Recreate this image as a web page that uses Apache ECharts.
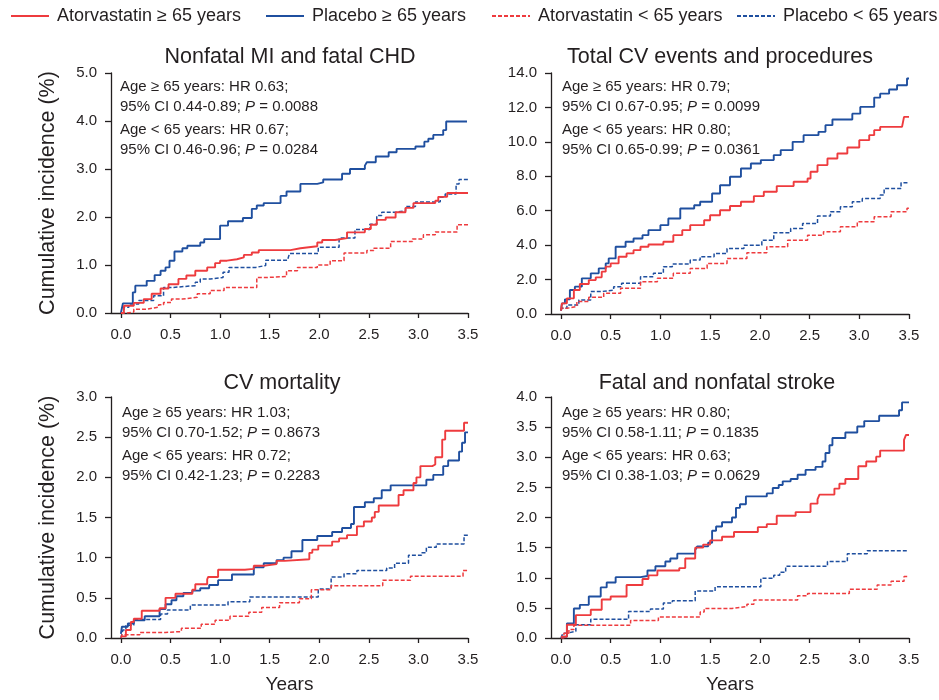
<!DOCTYPE html>
<html><head><meta charset="utf-8">
<script src="https://cdn.jsdelivr.net/npm/echarts@6/dist/echarts.min.js"></script>
<style>html,body{margin:0;padding:0;background:#fff}#c{width:939px;height:700px}</style>
</head><body><div id="c"></div>
<script>
// ---------- labels ----------
const seriesNames = ['Atorvastatin \u2265 65 years', 'Placebo \u2265 65 years', 'Atorvastatin < 65 years', 'Placebo < 65 years'];
const panelTitles = ['Nonfatal MI and fatal CHD', 'Total CV events and procedures', 'CV mortality', 'Fatal and nonfatal stroke'];
const xTickValues = [0, 0.5, 1.0, 1.5, 2.0, 2.5, 3.0, 3.5];
const yMaxes = [5, 14, 3, 4];
const yIntervals = [1, 2, 0.5, 0.5];
const xAxisTitle = 'Years';
const yAxisTitle = 'Cumulative incidence (%)';
const annotOld = [
  ['Age \u2265 65 years: HR 0.63;', '95% CI 0.44-0.89; ', ' = 0.0088'],
  ['Age \u2265 65 years: HR 0.79;', '95% CI 0.67-0.95; ', ' = 0.0099'],
  ['Age \u2265 65 years: HR 1.03;', '95% CI 0.70-1.52; ', ' = 0.8673'],
  ['Age \u2265 65 years: HR 0.80;', '95% CI 0.58-1.11; ', ' = 0.1835']
];
const annotYoung = [
  ['Age < 65 years: HR 0.67;', '95% CI 0.46-0.96; ', ' = 0.0284'],
  ['Age < 65 years: HR 0.80;', '95% CI 0.65-0.99; ', ' = 0.0361'],
  ['Age < 65 years: HR 0.72;', '95% CI 0.42-1.23; ', ' = 0.2283'],
  ['Age < 65 years: HR 0.63;', '95% CI 0.38-1.03; ', ' = 0.0629']
];

// ---------- data: [years, cumulative incidence %] ----------
// Panel 1: Nonfatal MI and fatal CHD
const mi_atorOld = [[0,0],[0.03,0.15],[0.13,0.21],[0.23,0.29],[0.31,0.40],[0.40,0.51],[0.48,0.60],[0.58,0.71],[0.66,0.78],[0.75,0.88],[0.87,0.95],[0.95,1.04],[1.0,1.09],[1.07,1.12],[1.17,1.16],[1.24,1.21],[1.32,1.26],[1.39,1.31],[1.71,1.35],[1.81,1.39],[1.98,1.47],[2.03,1.52],[2.16,1.56],[2.28,1.68],[2.46,1.75],[2.52,1.84],[2.58,1.94],[2.67,1.99],[2.77,2.10],[2.87,2.19],[2.95,2.29],[3.17,2.34],[3.20,2.42],[3.29,2.50],[3.5,2.50]];
const mi_placOld = [[0,0],[0.02,0.2],[0.12,0.43],[0.145,0.57],[0.26,0.67],[0.34,0.79],[0.40,0.88],[0.45,0.95],[0.49,1.09],[0.54,1.28],[0.62,1.35],[0.67,1.40],[0.80,1.47],[0.84,1.54],[1.0,1.82],[1.08,1.91],[1.23,1.98],[1.32,2.17],[1.37,2.24],[1.44,2.29],[1.61,2.44],[1.67,2.53],[1.81,2.69],[1.98,2.72],[2.04,2.78],[2.23,2.90],[2.31,3.0],[2.46,3.07],[2.48,3.14],[2.57,3.26],[2.70,3.35],[2.78,3.42],[2.97,3.47],[3.06,3.57],[3.10,3.63],[3.15,3.71],[3.25,3.81],[3.28,3.99],[3.49,3.99]];
const mi_atorYoung = [[0,0],[0.06,0.02],[0.13,0.08],[0.26,0.12],[0.38,0.17],[0.43,0.22],[0.51,0.29],[0.62,0.33],[0.77,0.40],[0.90,0.47],[1.04,0.53],[1.37,0.74],[1.47,0.76],[1.67,0.88],[1.78,0.95],[1.98,1.0],[2.11,1.09],[2.25,1.25],[2.48,1.30],[2.55,1.35],[2.72,1.49],[2.94,1.54],[3.05,1.63],[3.17,1.69],[3.39,1.84],[3.5,1.84]];
const mi_placYoung = [[0,0],[0.03,0.12],[0.08,0.19],[0.18,0.26],[0.33,0.36],[0.43,0.53],[0.51,0.57],[0.75,0.64],[0.80,0.71],[0.90,0.74],[1.03,0.85],[1.09,0.95],[1.36,0.99],[1.46,1.10],[1.68,1.13],[1.70,1.24],[1.99,1.37],[2.20,1.56],[2.36,1.74],[2.51,1.85],[2.58,2.03],[2.63,2.10],[2.78,2.13],[2.87,2.22],[2.97,2.31],[3.19,2.32],[3.22,2.41],[3.27,2.48],[3.38,2.69],[3.41,2.78],[3.5,2.78]];

// Panel 2: Total CV events and procedures
const cv_atorOld = [[0,0.2],[0.01,0.62],[0.06,0.91],[0.13,1.39],[0.19,1.74],[0.28,1.97],[0.35,2.13],[0.41,2.46],[0.45,2.75],[0.50,2.94],[0.58,3.33],[0.66,3.52],[0.73,3.71],[0.80,3.91],[0.88,4.04],[1.03,4.20],[1.13,4.58],[1.22,4.87],[1.30,5.16],[1.44,5.45],[1.50,5.74],[1.60,6.03],[1.70,6.27],[1.81,6.52],[1.94,6.85],[2.04,7.10],[2.17,7.43],[2.34,7.68],[2.48,7.87],[2.51,8.26],[2.58,8.65],[2.68,9.03],[2.78,9.32],[2.88,9.67],[3.00,10.1],[3.10,10.39],[3.15,10.68],[3.21,10.87],[3.43,10.97],[3.45,11.45],[3.5,11.45]];
const cv_placOld = [[0,0.2],[0.01,0.62],[0.04,0.85],[0.09,1.39],[0.14,1.59],[0.21,2.07],[0.30,2.36],[0.38,2.65],[0.45,2.94],[0.48,3.23],[0.55,3.91],[0.65,4.20],[0.73,4.39],[0.82,4.58],[0.88,4.87],[1.00,5.16],[1.08,5.55],[1.20,6.13],[1.34,6.32],[1.40,6.52],[1.52,7.00],[1.60,7.48],[1.70,7.97],[1.81,8.45],[1.91,8.74],[2.01,8.94],[2.14,9.23],[2.21,9.52],[2.33,10.0],[2.44,10.39],[2.59,10.58],[2.66,10.97],[2.73,11.30],[2.93,11.64],[3.01,12.03],[3.15,12.57],[3.21,12.8],[3.30,13.04],[3.38,13.29],[3.48,13.68],[3.5,13.68]];
const cv_atorYoung = [[0,0.2],[0.01,0.33],[0.06,0.43],[0.16,0.72],[0.28,0.97],[0.43,1.20],[0.60,1.49],[0.80,1.88],[0.97,2.07],[1.13,2.36],[1.30,2.65],[1.47,2.94],[1.67,3.23],[1.87,3.56],[2.07,3.91],[2.28,4.29],[2.48,4.58],[2.64,4.78],[2.81,5.07],[2.98,5.36],[3.15,5.65],[3.32,5.94],[3.48,6.15],[3.5,6.15]];
const cv_placYoung = [[0,0.2],[0.01,0.33],[0.06,0.52],[0.18,0.81],[0.30,1.30],[0.40,1.39],[0.53,1.59],[0.61,1.78],[0.80,2.17],[0.93,2.36],[1.03,2.75],[1.12,2.90],[1.30,3.13],[1.40,3.33],[1.54,3.52],[1.67,3.81],[1.84,4.00],[2.02,4.29],[2.14,4.72],[2.31,4.97],[2.43,5.26],[2.58,5.69],[2.71,5.94],[2.81,6.23],[2.93,6.52],[3.03,6.71],[3.21,6.91],[3.25,7.29],[3.42,7.62],[3.5,7.62]];

// Panel 3: CV mortality
const mort_atorOld = [[0,0.02],[0.05,0.10],[0.10,0.20],[0.13,0.24],[0.21,0.34],[0.39,0.37],[0.45,0.50],[0.55,0.55],[0.72,0.60],[0.75,0.67],[0.87,0.73],[0.88,0.76],[0.98,0.85],[1.25,0.86],[1.34,0.90],[1.44,0.92],[1.57,0.96],[1.65,0.98],[1.90,1.06],[1.93,1.10],[1.99,1.15],[2.13,1.20],[2.20,1.24],[2.28,1.28],[2.38,1.39],[2.45,1.45],[2.53,1.50],[2.56,1.57],[2.60,1.65],[2.80,1.78],[2.85,1.84],[2.95,1.93],[2.98,2.0],[3.02,2.14],[3.14,2.16],[3.17,2.25],[3.24,2.47],[3.27,2.58],[3.46,2.68],[3.5,2.68]];
const mort_placOld = [[0,0.05],[0.01,0.14],[0.07,0.18],[0.13,0.22],[0.24,0.27],[0.39,0.36],[0.45,0.42],[0.51,0.47],[0.56,0.52],[0.63,0.56],[0.72,0.59],[0.80,0.62],[0.89,0.66],[0.98,0.72],[1.12,0.79],[1.34,0.88],[1.44,0.93],[1.57,0.97],[1.64,1.0],[1.72,1.08],[1.83,1.22],[1.98,1.27],[2.13,1.32],[2.23,1.37],[2.32,1.42],[2.35,1.63],[2.46,1.69],[2.55,1.74],[2.63,1.84],[2.72,1.90],[3.08,1.97],[3.15,2.03],[3.25,2.14],[3.30,2.21],[3.41,2.32],[3.44,2.43],[3.47,2.56],[3.5,2.56]];
const mort_atorYoung = [[0,0],[0.01,0.04],[0.19,0.07],[0.45,0.08],[0.61,0.12],[0.81,0.17],[0.95,0.22],[1.10,0.27],[1.29,0.32],[1.42,0.38],[1.60,0.44],[1.80,0.49],[1.92,0.60],[2.12,0.65],[2.64,0.72],[2.92,0.77],[3.45,0.84],[3.5,0.84]];
const mort_placYoung = [[0,0],[0.02,0.10],[0.05,0.16],[0.13,0.23],[0.40,0.30],[0.47,0.35],[0.70,0.41],[1.08,0.45],[1.30,0.51],[1.99,0.61],[2.12,0.76],[2.25,0.80],[2.38,0.84],[2.68,0.87],[2.76,0.93],[2.90,1.03],[3.03,1.06],[3.08,1.13],[3.18,1.17],[3.46,1.28],[3.5,1.28]];

// Panel 4: Fatal and nonfatal stroke
const st_atorOld = [[0,0.02],[0.06,0.22],[0.15,0.38],[0.30,0.47],[0.41,0.64],[0.50,0.69],[0.66,0.88],[0.82,0.98],[0.88,1.04],[0.97,1.12],[1.19,1.16],[1.25,1.32],[1.35,1.50],[1.43,1.55],[1.50,1.62],[1.62,1.68],[1.74,1.76],[1.98,1.84],[2.07,1.89],[2.17,2.03],[2.36,2.09],[2.51,2.23],[2.58,2.30],[2.60,2.38],[2.75,2.48],[2.80,2.56],[2.86,2.64],[2.99,2.85],[3.07,2.93],[3.17,3.01],[3.21,3.11],[3.45,3.29],[3.47,3.37],[3.5,3.37]];
const st_placOld = [[0,0.02],[0.06,0.24],[0.13,0.49],[0.19,0.55],[0.28,0.69],[0.40,0.84],[0.46,0.92],[0.55,1.01],[0.80,1.03],[0.87,1.12],[0.95,1.19],[1.05,1.27],[1.10,1.32],[1.17,1.40],[1.35,1.46],[1.37,1.52],[1.48,1.58],[1.52,1.78],[1.56,1.85],[1.62,1.92],[1.72,2.0],[1.76,2.16],[1.80,2.22],[1.86,2.35],[2.07,2.40],[2.13,2.49],[2.19,2.54],[2.23,2.60],[2.31,2.64],[2.38,2.71],[2.46,2.79],[2.56,2.84],[2.63,2.93],[2.66,3.07],[2.70,3.20],[2.73,3.32],[2.86,3.41],[2.98,3.51],[3.05,3.60],[3.20,3.69],[3.40,3.78],[3.43,3.91],[3.5,3.91]];
const st_atorYoung = [[0,0],[0.03,0.08],[0.08,0.14],[0.13,0.21],[0.70,0.29],[0.98,0.35],[1.40,0.43],[1.44,0.49],[1.72,0.52],[1.87,0.56],[1.94,0.63],[2.38,0.70],[2.48,0.74],[2.90,0.81],[3.18,0.88],[3.32,0.94],[3.45,1.02],[3.5,1.02]];
const st_placYoung = [[0,0],[0.02,0.08],[0.06,0.11],[0.15,0.22],[0.30,0.31],[0.68,0.44],[0.90,0.48],[1.03,0.58],[1.12,0.62],[1.35,0.78],[1.55,0.85],[2.01,0.99],[2.14,1.04],[2.20,1.09],[2.26,1.19],[2.68,1.27],[2.88,1.40],[3.08,1.45],[3.48,1.45]];

const panelData = [
  [mi_atorOld, mi_placOld, mi_atorYoung, mi_placYoung],
  [cv_atorOld, cv_placOld, cv_atorYoung, cv_placYoung],
  [mort_atorOld, mort_placOld, mort_atorYoung, mort_placYoung],
  [st_atorOld, st_placOld, st_atorYoung, st_placYoung]
];

// ---------- styling / layout ----------
const RED = '#ee3b3e', BLUE = '#1f4f9f', INK = '#231f20';
const REG = '"Liberation Sans",Arial,sans-serif';
const seriesStyles = [
  {color: RED, type: 'solid', width: 1.9},
  {color: BLUE, type: 'solid', width: 1.9},
  {color: RED, type: [4, 2], width: 1.5},
  {color: BLUE, type: [4, 2], width: 1.5}
];
const grids = [
  {left: 111, top: 73, width: 357, height: 240},
  {left: 551, top: 73, width: 358, height: 241},
  {left: 111, top: 397, width: 357, height: 241},
  {left: 551, top: 397, width: 358, height: 241}
];
const titlePos = [[290, 57], [720, 57], [282, 383], [717, 383]];
const annotPos = [[120, 77], [562, 77], [122, 403], [562, 403]];

const xAxes = grids.map((g, i) => ({
  gridIndex: i, type: 'value', min: -0.1, max: 3.5,
  name: i >= 2 ? xAxisTitle : '', nameLocation: 'middle', nameGap: 37,
  nameTextStyle: {fontFamily: REG, fontSize: 19, color: INK},
  axisLine: {show: true, onZero: false, lineStyle: {color: INK, width: 1.3}},
  axisTick: {show: true, inside: false, length: 5, customValues: xTickValues, lineStyle: {color: INK, width: 1.3}},
  axisLabel: {customValues: xTickValues, formatter: v => v.toFixed(1), fontFamily: REG, fontSize: 15, color: INK, margin: 14},
  splitLine: {show: false}
}));
const yAxes = grids.map((g, i) => ({
  gridIndex: i, type: 'value', min: 0, max: yMaxes[i], interval: yIntervals[i],
  name: (i % 2 === 0) ? yAxisTitle : '', nameLocation: 'middle', nameGap: 52,
  nameTextStyle: {fontFamily: REG, fontSize: 21.5, color: INK},
  axisLine: {show: true, onZero: false, lineStyle: {color: INK, width: 1.3}},
  axisTick: {show: true, inside: false, length: 6, lineStyle: {color: INK, width: 1.3}},
  axisLabel: {formatter: v => v.toFixed(1), fontFamily: REG, fontSize: 15, color: INK, margin: 14},
  splitLine: {show: false}
}));

const series = [];
panelData.forEach((arr, p) => {
  arr.forEach((d, k) => {
    series.push({
      name: seriesNames[k], type: 'line', step: 'end', data: d,
      xAxisIndex: p, yAxisIndex: p, symbol: 'none', showSymbol: false,
      lineStyle: seriesStyles[k], itemStyle: {color: seriesStyles[k].color},
      z: 10 - k, animation: false, silent: true
    });
  });
});

const legendLefts = [5, 260, 486, 731];
const legends = seriesNames.map((n, k) => ({
  data: [n], left: legendLefts[k], top: 2, itemWidth: 38, itemHeight: 20, itemGap: 0,
  itemStyle: {color: 'rgba(0,0,0,0)', borderWidth: 0, opacity: 0},
  textStyle: {fontFamily: REG, fontSize: 18, color: INK, padding: [0, 0, 0, 3]},
  selectedMode: false
}));

const graphics = [];
panelTitles.forEach((t, i) => {
  graphics.push({type: 'text', x: titlePos[i][0], y: titlePos[i][1], silent: true,
    style: {text: t, fontFamily: REG, fontSize: 21.5, fill: INK, align: 'center', verticalAlign: 'middle'}});
});
const richP = {i: {fontStyle: 'italic', fontFamily: REG, fontSize: 15, fill: INK}};
[annotOld, annotYoung].forEach((block, b) => {
  block.forEach((a, i) => {
    graphics.push({type: 'text', x: annotPos[i][0], y: annotPos[i][1] + b * 43, silent: true,
      style: {text: a[0] + '\n' + a[1] + '{i|P}' + a[2], rich: richP, fontFamily: REG, fontSize: 15,
        lineHeight: 20, fill: INK, align: 'left', verticalAlign: 'top'}});
  });
});

const chart = echarts.init(document.getElementById('c'), null, {renderer: 'canvas'});
chart.setOption({
  backgroundColor: '#fff',
  animation: false,
  legend: legends,
  grid: grids,
  xAxis: xAxes,
  yAxis: yAxes,
  series: series,
  graphic: graphics
});
</script></body></html>
